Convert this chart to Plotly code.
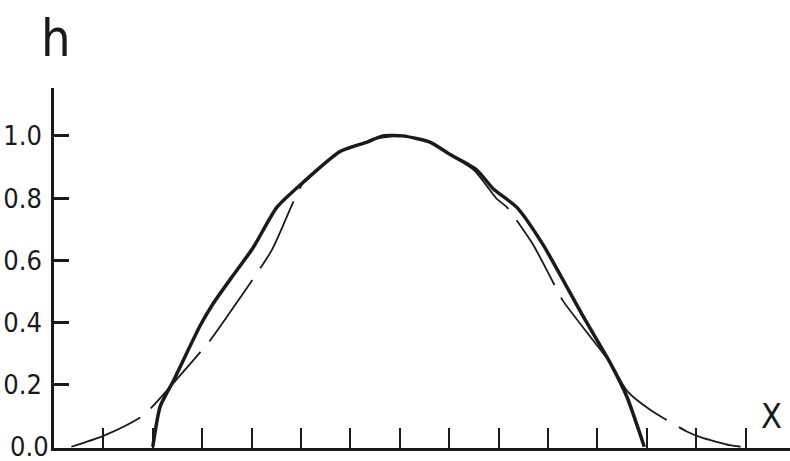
import plotly.graph_objects as go

# solid curve (x in tick units, axis at 0)
solid_x = [2.0, 2.15, 2.41, 2.96, 3.22, 3.62, 4.03, 4.51, 5.04, 5.79, 6.34, 6.66, 7.06, 7.61, 8.02, 8.56, 8.89, 9.37, 9.90, 10.71, 11.26, 11.6, 11.95]
solid_y = [0.0, 0.13, 0.21, 0.39, 0.46, 0.55, 0.64, 0.77, 0.85, 0.95, 0.98, 1.0, 1.0, 0.98, 0.94, 0.89, 0.83, 0.77, 0.65, 0.42, 0.27, 0.16, 0.0]

# dashed curve
dash_x = [0.35, 1.0, 1.8, 2.5, 3.15, 3.42, 4.4, 5.05, 5.8, 6.5, 7.0, 7.6, 8.5, 8.95, 9.17, 9.7, 10.1, 10.3, 11.26, 11.6, 12.06, 12.8, 13.1, 13.68, 13.9]
dash_y = [0.0, 0.035, 0.10, 0.22, 0.34, 0.40, 0.63, 0.85, 0.95, 0.99, 1.0, 0.98, 0.89, 0.80, 0.77, 0.65, 0.53, 0.47, 0.27, 0.18, 0.12, 0.05, 0.03, 0.005, 0.0]

y_ticks = [0.0, 0.2, 0.4, 0.6, 0.8, 1.0]
y_labels = ["0.0", "0.2", "0.4", "0.6", "0.8", "1.0"]
x_ticks = list(range(1, 15))

ink = "#1a1a1a"
fig = go.Figure()
fig.add_trace(go.Scatter(x=dash_x, y=dash_y, mode="lines", hoverinfo="skip",
                         line=dict(color=ink, width=1.8, dash="75px,14px", shape="spline", smoothing=0.6)))
fig.add_trace(go.Scatter(x=solid_x, y=solid_y, mode="lines", hoverinfo="skip",
                         line=dict(color=ink, width=3.5, shape="spline", smoothing=0.6)))

font_fam = "DejaVu Sans Condensed, Liberation Sans Narrow, sans-serif"
tick_font = dict(family=font_fam, size=27, color=ink)

annotations = [
    dict(text="h", xref="paper", yref="paper", x=0.003, y=1.14, xanchor="center", yanchor="middle",
         showarrow=False, font=dict(family=font_fam, size=52, color=ink)),
    dict(text="X", xref="paper", yref="paper", x=0.975, y=0.09, xanchor="center", yanchor="middle",
         showarrow=False, font=dict(family=font_fam, size=34, color=ink)),
    # the bottom tick label (Plotly drops it at the axis corner)
    dict(text=y_labels[0], xref="paper", yref="y", x=0, y=y_ticks[0], xanchor="right", yanchor="middle",
         xshift=-3, showarrow=False, font=tick_font),
]

fig.update_layout(
    width=790, height=461,
    margin=dict(l=54, r=0, t=88, b=13, autoexpand=False),
    paper_bgcolor="white", plot_bgcolor="white",
    showlegend=False,
    xaxis=dict(range=[0, 14.9], showgrid=False, zeroline=False, automargin=False,
               showline=True, linecolor=ink, linewidth=2.5,
               tickmode="array", tickvals=x_ticks, showticklabels=False,
               ticks="inside", ticklen=20, tickwidth=2, tickcolor=ink),
    yaxis=dict(range=[-0.004, 1.154], showgrid=False, zeroline=False, automargin=False,
               showline=True, linecolor=ink, linewidth=2.5,
               tickmode="array", tickvals=y_ticks[1:], ticktext=y_labels[1:],
               ticks="inside", ticklen=15, tickwidth=2.5, tickcolor=ink,
               tickfont=tick_font, ticklabelstandoff=4),
    annotations=annotations,
)
fig.write_html("out.html", config={"displayModeBar": False},
               post_script="document.body.style.margin='0';")
